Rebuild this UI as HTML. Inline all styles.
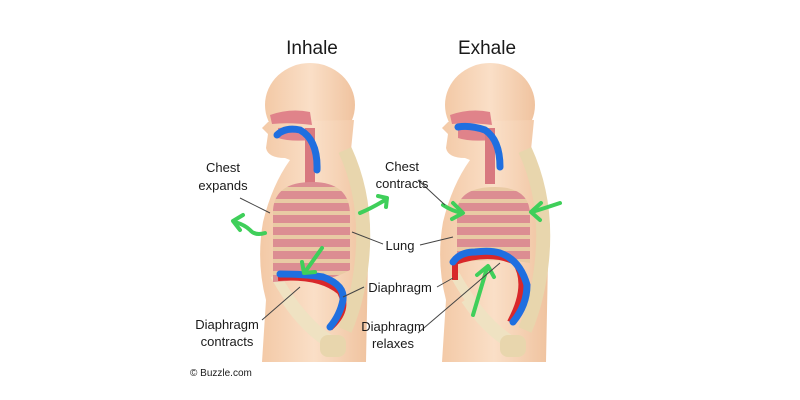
<!DOCTYPE html>
<html><head><style>
html,body{margin:0;padding:0;background:#fff;}
svg{display:block;}
text{font-family:"Liberation Sans",sans-serif;fill:#1a1a1a;}
</style></head><body>
<svg width="800" height="400" viewBox="0 0 800 400" xmlns="http://www.w3.org/2000/svg">
<defs>
<linearGradient id="skin" x1="0" x2="1">
<stop offset="0" stop-color="#f3c9a6"/><stop offset="0.5" stop-color="#fadfc7"/><stop offset="1" stop-color="#f0c39f"/>
</linearGradient>
<pattern id="ribs" width="10" height="12" patternUnits="userSpaceOnUse">
<rect width="10" height="12" fill="#dc8d92"/><rect y="7" width="10" height="4" fill="#e9caa4"/>
</pattern>
<g id="body">
<ellipse cx="310" cy="105" rx="45" ry="42" fill="url(#skin)"/>
<path d="M268 122 L262 128 L268 134 L266 148 Q268 158 285 158 L290 160 Q272 185 263 222 Q256 262 266 300 L262 362 L366 362 L368 260 Q366 200 350 160 L354 120 Z" fill="url(#skin)"/>
<path d="M345 150 Q368 200 362 260 Q358 300 345 330" stroke="#e8d6ad" stroke-width="14" fill="none"/>
<path d="M275 275 Q300 320 330 340" stroke="#efe2c2" stroke-width="10" fill="none"/>
<path d="M285 300 Q305 330 330 345" stroke="#efe2c2" stroke-width="8" fill="none"/>
<rect x="320" y="335" width="26" height="22" rx="8" fill="#e8d6ad"/>
<path d="M270 115 Q290 108 310 112 L312 125 Q290 122 272 124 Z" fill="#e0838a"/>
<path d="M278 128 Q295 126 312 130 L312 140 Q290 142 278 138 Z" fill="#e0838a"/>
<rect x="305" y="128" width="10" height="56" fill="#d8787f"/>
</g>
</defs>

<use href="#body"/>
<path d="M273 210 Q275 182 312 182 Q350 182 350 215 L350 270 Q330 282 300 280 L273 282 Z" fill="url(#ribs)"/>
<use href="#body" transform="translate(180,0)"/>
<path d="M457 210 Q460 187 495 187 Q530 187 530 215 L530 263 Q500 258 457 262 Z" fill="url(#ribs)"/>

<path d="M278 278 Q320 275 340 292 Q350 310 330 328" stroke="#d8272a" stroke-width="6" fill="none"/>
<path d="M455 280 L455 262 Q490 250 515 262 Q530 285 510 322" stroke="#d8272a" stroke-width="6" fill="none"/>

<g stroke="#1f6fe0" stroke-width="7" fill="none" stroke-linecap="round">
<path d="M277 135 Q285 127 300 130 Q318 140 317 170"/>
<path d="M280 274 Q305 274 323 277 Q345 285 343 300 Q340 315 330 327"/>
<path d="M458 127 Q470 125 485 130 Q500 140 500 167"/>
<path d="M453 262 Q460 252 475 252 Q490 250 500 253 Q520 260 527 285 Q527 305 513 322"/>
</g>

<g stroke="#3fcf5a" stroke-width="4" fill="none" stroke-linecap="round" stroke-linejoin="round">
<path d="M265 233 Q255 236 250 230 Q245 225 235 222"/><path d="M243 215 L233 221 L240 230"/>
<path d="M360 213 Q372 208 385 200"/><path d="M378 196 L387 198 L386 207"/>
<path d="M322 248 L305 272"/><path d="M302 262 L304 273 L315 272"/>
<path d="M443 205 Q452 211 462 213"/><path d="M453 203 L463 213 L452 219"/>
<path d="M560 203 Q545 208 532 212"/><path d="M541 203 L531 212 L540 220"/>
<path d="M473 315 L487 268"/><path d="M477 275 L488 266 L494 277"/>
</g>

<g stroke="#444" stroke-width="1" fill="none">
<line x1="240" y1="198" x2="270" y2="213"/>
<line x1="383" y1="244" x2="352" y2="232"/>
<line x1="420" y1="245" x2="453" y2="237"/>
<line x1="364" y1="287" x2="343" y2="297"/>
<line x1="437" y1="287" x2="453" y2="278"/>
<line x1="262" y1="320" x2="300" y2="287"/>
<line x1="418" y1="333" x2="500" y2="263"/>
<line x1="418" y1="180" x2="445" y2="205"/>
</g>

<text x="312" y="54" font-size="19" text-anchor="middle">Inhale</text>
<text x="487" y="54" font-size="19" text-anchor="middle">Exhale</text>
<g font-size="13" text-anchor="middle">
<text x="223" y="172">Chest</text><text x="223" y="190">expands</text>
<text x="402" y="171">Chest</text><text x="402" y="188">contracts</text>
<text x="400" y="250">Lung</text>
<text x="400" y="292">Diaphragm</text>
<text x="227" y="329">Diaphragm</text><text x="227" y="346">contracts</text>
<text x="393" y="331">Diaphragm</text><text x="393" y="348">relaxes</text>
</g>
<text x="190" y="376" font-size="10">© Buzzle.com</text>
</svg>
</body></html>
